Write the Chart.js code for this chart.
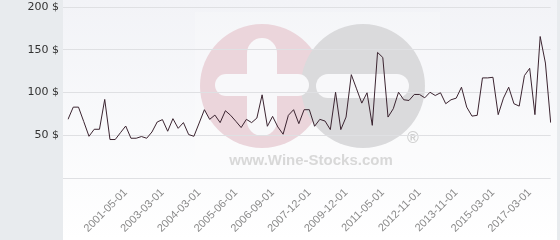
<!DOCTYPE html>
<html>
<head>
<meta charset="utf-8">
<script src="https://cdn.jsdelivr.net/npm/chart.js@4.4.1/dist/chart.umd.min.js"></script>
<style>
  html, body { margin: 0; padding: 0; background: #e8ebee; }
  #wrap { width: 560px; height: 240px; position: relative; }
</style>
</head>
<body>
<div id="wrap"><canvas id="chart" width="560" height="240"></canvas></div>
<script>
// price per bottle, one point per quote
const prices = [
  68.6, 82.9, 82.9, 66, 48.8, 57, 57, 91.9, 45, 45,
  53, 60.8, 46.5, 46.5, 48.5, 46.5, 53.8, 65.5, 68.3, 54.7,
  69.4, 58.1, 64.8, 50.8, 48.8, 64.3, 79.9, 68.6, 73.6, 64.8,
  78.7, 73.3, 66.3, 59, 68.6, 64.8, 70.1, 97.3, 60.5, 72.1,
  59.7, 51.2, 73.3, 79.9, 63.6, 79.9, 79.9, 60.5, 68.6, 66.6,
  56.6, 100.3, 56.6, 71.3, 120.9, 104.3, 87.6, 99.7, 61.6, 146.9,
  141, 71.3, 81, 100.3, 91.5, 90.7, 97.7, 97.7, 93.8, 100.3,
  96.5, 99.7, 86.9, 91.5, 93.4, 106.2, 82.9, 72.4, 73.3, 117.1,
  117.1, 117.8, 74.1, 93.4, 106.2, 86.9, 84.1, 119.8, 128.3, 74.1,
  165.5, 134.5, 64.8
];

// dates shown on the x axis and the quote they sit under
const tickLabels = [
  "2001-05-01", "2003-03-01", "2004-03-01", "2005-06-01", "2006-09-01", "2007-12-01",
  "2009-12-01", "2011-05-01", "2012-11-01", "2013-11-01", "2015-03-01", "2017-03-01"
];
const tickIndex = [11, 18, 25, 32, 39, 46, 53, 60, 67, 74, 81, 88];

const yTicks = [0, 50, 100, 150, 200];

const categories = prices.map((p, i) => i);

// background panel + watermark, drawn under the grid
const backdrop = {
  id: "backdrop",
  beforeDraw(chart) {
    const ctx = chart.ctx;
    ctx.save();
    ctx.fillStyle = "#e8ebee";
    ctx.fillRect(0, 0, chart.width, chart.height);
    const g = ctx.createLinearGradient(0, 0, 0, chart.height);
    g.addColorStop(0, "#f2f3f7");
    g.addColorStop(1, "#ffffff");
    ctx.fillStyle = g;
    ctx.fillRect(63, 0, 494, chart.height);

    ctx.fillStyle = "rgba(255,255,255,0.2)";
    ctx.fillRect(195, 12, 245, 162);

    // pink circle with cross
    ctx.fillStyle = "#ebd5db";
    ctx.beginPath(); ctx.arc(262, 86, 62, 0, Math.PI * 2); ctx.fill();
    // grey circle with bar
    ctx.fillStyle = "#dadadc";
    ctx.beginPath(); ctx.arc(363, 86, 62, 0, Math.PI * 2); ctx.fill();

    ctx.fillStyle = "#f8f8fa";
    ctx.beginPath(); ctx.roundRect(247, 38, 30, 98, 15); ctx.fill();
    ctx.beginPath(); ctx.roundRect(215, 74, 94, 22, 11); ctx.fill();
    ctx.beginPath(); ctx.roundRect(316, 74, 93, 24, 12); ctx.fill();

    ctx.fillStyle = "#d8d8d8";
    ctx.font = "bold 15px 'Liberation Sans', Arial";
    ctx.textAlign = "center";
    ctx.textBaseline = "alphabetic";
    ctx.fillText("www.Wine-Stocks.com", 311, 165);
    ctx.fillStyle = "#d0d0d0";
    ctx.font = "bold 16px 'Liberation Sans', Arial";
    ctx.textBaseline = "middle";
    ctx.fillText("\u00ae", 413, 139);
    ctx.restore();
  }
};

new Chart(document.getElementById("chart"), {
  type: "line",
  data: {
    labels: categories,
    datasets: [{
      data: prices,
      borderColor: "#3b2430",
      borderWidth: 1,
      pointRadius: 0,
      fill: false,
      tension: 0
    }]
  },
  options: {
    responsive: false,
    animation: false,
    layout: { padding: { top: 0, right: 6, left: 0, bottom: 0 } },
    plugins: { legend: { display: false }, tooltip: { enabled: false } },
    scales: {
      x: {
        type: "category",
        offset: false,
        grid: { display: false },
        border: { display: false },
        afterFit(scale) { scale.height = 62; },
        ticks: {
          autoSkip: false,
          minRotation: 45,
          maxRotation: 45,
          padding: 0,
          color: "#8a8a8a",
          font: { family: "'Liberation Sans', Arial", size: 11 },
          callback(value, index) {
            const k = tickIndex.indexOf(index);
            return k >= 0 ? tickLabels[k] : "";
          }
        }
      },
      y: {
        min: yTicks[0],
        max: yTicks[yTicks.length - 1],
        afterFit(scale) { scale.width = 68; },
        afterBuildTicks(scale) { scale.ticks = yTicks.map(v => ({ value: v })); },
        border: { display: false },
        grid: { color: "#dfe0e3", lineWidth: 1, drawTicks: true, tickLength: 5 },
        ticks: {
          padding: 4,
          color: "#333333",
          font: { family: "'DejaVu Sans'", size: 11, lineHeight: 0.55 },
          callback(value) { return value === 0 ? "" : value + " $"; }
        }
      }
    }
  },
  plugins: [backdrop]
});
</script>
</body>
</html>
